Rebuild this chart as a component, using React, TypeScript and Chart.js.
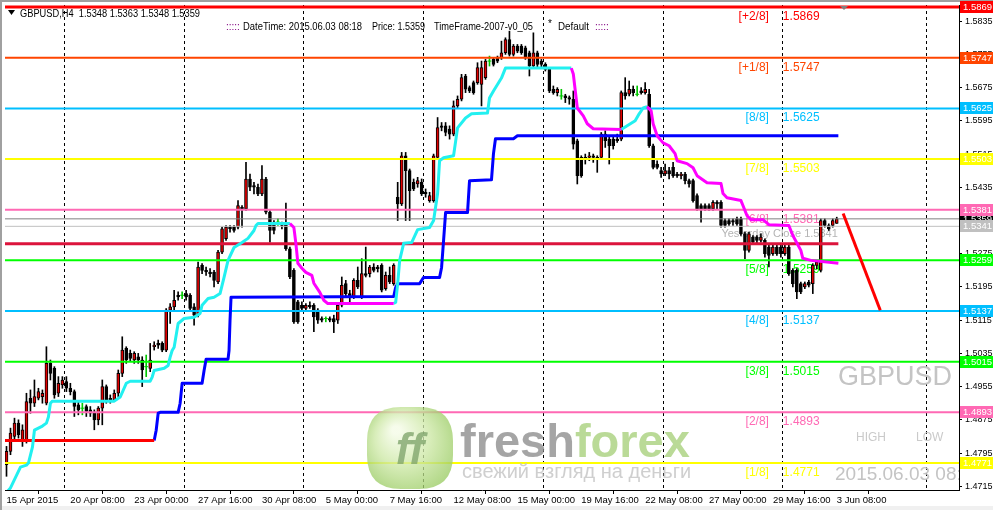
import React, { useEffect, useRef } from 'react';
import { Chart, registerables } from 'chart.js';

Chart.register(...registerables);

const FONT = '"Liberation Sans", Arial, sans-serif';

// axis extents (bar index / price)
const X_MIN = -0.375;
const X_MAX = 238.625;
const Y_MIN = 1.4706;
const Y_MAX = 1.5874;

const xTickBars = [0, 16, 32, 48, 64, 80, 96, 112, 128, 144, 160, 176, 192, 208];
const xTickLabels = ['15 Apr 2015', '20 Apr 08:00', '23 Apr 00:00', '27 Apr 16:00', '30 Apr 08:00', '5 May 00:00', '7 May 16:00', '12 May 08:00', '15 May 00:00', '19 May 16:00', '22 May 08:00', '27 May 00:00', '29 May 16:00', '3 Jun 08:00'];
const yTickValues = [1.4715, 1.4795, 1.4875, 1.4955, 1.5035, 1.5115, 1.5195, 1.5275, 1.5355, 1.5435, 1.5515, 1.5595, 1.5675, 1.5755, 1.5835];
const gridBars = [14.375, 44.375, 74.375, 104.375, 134.375, 164.375, 194.375, 230.375];

const levelNames = ['[+2/8]', '[+1/8]', '[8/8]', '[7/8]', '[6/8]', '[5/8]', '[4/8]', '[3/8]', '[2/8]', '[1/8]'];
const levelValues = [1.5869, 1.5747, 1.5625, 1.5503, 1.5381, 1.5259, 1.5137, 1.5015, 1.4893, 1.4771];
const levelColors = ['#FF0000', '#FF4500', '#00BFFF', '#FFFF00', '#FF69B4', '#00FF00', '#00BFFF', '#00FF00', '#FF69B4', '#FFFF00'];
const levelWidths = [3, 2, 2, 2, 2, 2, 2, 2, 2, 2];

const currentPrice = 1.5359;
const yesterdayClose = 1.5341;
const pivotLevel = 1.5299;

// [open, high, low, close] per H4 bar
const ohlc: [number, number, number, number][] = [
  [1.4767, 1.4811, 1.4739, 1.4799], [1.4799, 1.4855, 1.4791, 1.4843], [1.4835, 1.4879, 1.4827, 1.4867], [1.4867, 1.4875, 1.4831, 1.4839],
  [1.4827, 1.4863, 1.4811, 1.4851], [1.4827, 1.4939, 1.4819, 1.4919], [1.4927, 1.4947, 1.4891, 1.4915], [1.4915, 1.4971, 1.4907, 1.4931],
  [1.4927, 1.4951, 1.4923, 1.4943], [1.4931, 1.4947, 1.4915, 1.4939], [1.4915, 1.5051, 1.4911, 1.5011], [1.5011, 1.5019, 1.4971, 1.4987],
  [1.4999, 1.5003, 1.4927, 1.4935], [1.4939, 1.4979, 1.4931, 1.4963], [1.4959, 1.4979, 1.4951, 1.4971], [1.4967, 1.4979, 1.4943, 1.4951],
  [1.4951, 1.4963, 1.4935, 1.4943], [1.4943, 1.4947, 1.4883, 1.4907], [1.4911, 1.4919, 1.4887, 1.4899], [1.4903, 1.4915, 1.4887, 1.4903],
  [1.4907, 1.4911, 1.4883, 1.4895], [1.4899, 1.4907, 1.4883, 1.4891], [1.4891, 1.4899, 1.4851, 1.4875], [1.4875, 1.4907, 1.4863, 1.4903],
  [1.4903, 1.4971, 1.4863, 1.4955], [1.4955, 1.4959, 1.4915, 1.4923], [1.4927, 1.4935, 1.4915, 1.4919], [1.4923, 1.4947, 1.4919, 1.4939],
  [1.4939, 1.4995, 1.4931, 1.4987], [1.4987, 1.5075, 1.4979, 1.5043], [1.5047, 1.5051, 1.5011, 1.5019], [1.5035, 1.5043, 1.5015, 1.5023],
  [1.5019, 1.5039, 1.5011, 1.5035], [1.5027, 1.5035, 1.5011, 1.5019], [1.5019, 1.5027, 1.4955, 1.4995], [1.5003, 1.5031, 1.4979, 1.5003],
  [1.4999, 1.5059, 1.4991, 1.5019], [1.5051, 1.5063, 1.5043, 1.5055], [1.5059, 1.5067, 1.5047, 1.5055], [1.5059, 1.5063, 1.5039, 1.5043],
  [1.5043, 1.5143, 1.5039, 1.5139], [1.5139, 1.5155, 1.5107, 1.5147], [1.5147, 1.5187, 1.5139, 1.5163], [1.5175, 1.5183, 1.5163, 1.5171],
  [1.5175, 1.5183, 1.5167, 1.5175], [1.5179, 1.5187, 1.5163, 1.5171], [1.5175, 1.5179, 1.5139, 1.5143], [1.5147, 1.5155, 1.5103, 1.5127],
  [1.5127, 1.5255, 1.5123, 1.5243], [1.5247, 1.5251, 1.5227, 1.5235], [1.5235, 1.5243, 1.5223, 1.5231], [1.5231, 1.5239, 1.5219, 1.5227],
  [1.5231, 1.5235, 1.5195, 1.5211], [1.5207, 1.5283, 1.5203, 1.5279], [1.5279, 1.5339, 1.5275, 1.5335], [1.5311, 1.5343, 1.5307, 1.5339],
  [1.5339, 1.5343, 1.5327, 1.5335], [1.5339, 1.5343, 1.5327, 1.5331], [1.5339, 1.5403, 1.5335, 1.5391], [1.5387, 1.5391, 1.5339, 1.5383],
  [1.5383, 1.5495, 1.5379, 1.5455], [1.5455, 1.5467, 1.5427, 1.5435], [1.5439, 1.5447, 1.5419, 1.5435], [1.5435, 1.5443, 1.5415, 1.5419],
  [1.5419, 1.5487, 1.5415, 1.5455], [1.5455, 1.5459, 1.5371, 1.5375], [1.5375, 1.5379, 1.5303, 1.5331], [1.5351, 1.5355, 1.5323, 1.5331],
  [1.5351, 1.5359, 1.5343, 1.5351], [1.5347, 1.5351, 1.5335, 1.5343], [1.5347, 1.5397, 1.5283, 1.5287], [1.5287, 1.5291, 1.5215, 1.5219],
  [1.5235, 1.5239, 1.5107, 1.5111], [1.5159, 1.5163, 1.5107, 1.5111], [1.5151, 1.5159, 1.5139, 1.5143], [1.5143, 1.5155, 1.5139, 1.5151],
  [1.5151, 1.5159, 1.5143, 1.5147], [1.5151, 1.5155, 1.5087, 1.5123], [1.5139, 1.5143, 1.5107, 1.5115], [1.5119, 1.5123, 1.5111, 1.5115],
  [1.5119, 1.5123, 1.5111, 1.5119], [1.5119, 1.5123, 1.5111, 1.5115], [1.5119, 1.5127, 1.5085, 1.5111], [1.5115, 1.5155, 1.5107, 1.5151],
  [1.5151, 1.5219, 1.5147, 1.5199], [1.5203, 1.5211, 1.5171, 1.5179], [1.5179, 1.5187, 1.5155, 1.5171], [1.5171, 1.5215, 1.5167, 1.5211],
  [1.5211, 1.5243, 1.5191, 1.5195], [1.5171, 1.5263, 1.5167, 1.5227], [1.5227, 1.5291, 1.5219, 1.5223], [1.5227, 1.5247, 1.5219, 1.5243],
  [1.5243, 1.5251, 1.5231, 1.5235], [1.5243, 1.5247, 1.5231, 1.5239], [1.5247, 1.5251, 1.5183, 1.5187], [1.5191, 1.5231, 1.5187, 1.5223],
  [1.5223, 1.5243, 1.5203, 1.5207], [1.5203, 1.5251, 1.5199, 1.5247], [1.5411, 1.5447, 1.5355, 1.5395], [1.5395, 1.5519, 1.5391, 1.5511],
  [1.5511, 1.5519, 1.5355, 1.5475], [1.5475, 1.5479, 1.5355, 1.5427], [1.5447, 1.5455, 1.5427, 1.5431], [1.5443, 1.5459, 1.5435, 1.5451],
  [1.5447, 1.5455, 1.5415, 1.5419], [1.5423, 1.5431, 1.5411, 1.5419], [1.5403, 1.5423, 1.5399, 1.5415], [1.5403, 1.5515, 1.5399, 1.5511],
  [1.5507, 1.5603, 1.5503, 1.5579], [1.5583, 1.5591, 1.5571, 1.5579], [1.5583, 1.5591, 1.5559, 1.5567], [1.5575, 1.5583, 1.5551, 1.5563],
  [1.5563, 1.5643, 1.5559, 1.5631], [1.5631, 1.5655, 1.5627, 1.5647], [1.5647, 1.5707, 1.5643, 1.5699], [1.5703, 1.5707, 1.5663, 1.5671],
  [1.5675, 1.5679, 1.5663, 1.5667], [1.5687, 1.5691, 1.5659, 1.5663], [1.5687, 1.5735, 1.5683, 1.5723], [1.5683, 1.5739, 1.5631, 1.5723],
  [1.5699, 1.5743, 1.5695, 1.5739], [1.5739, 1.5751, 1.5727, 1.5739], [1.5743, 1.5747, 1.5727, 1.5731], [1.5747, 1.5751, 1.5735, 1.5739],
  [1.5747, 1.5787, 1.5743, 1.5759], [1.5759, 1.5795, 1.5755, 1.5791], [1.5791, 1.5811, 1.5751, 1.5755], [1.5755, 1.5779, 1.5751, 1.5775],
  [1.5775, 1.5779, 1.5759, 1.5763], [1.5775, 1.5779, 1.5755, 1.5759], [1.5771, 1.5775, 1.5743, 1.5747], [1.5759, 1.5763, 1.5703, 1.5727],
  [1.5727, 1.5807, 1.5723, 1.5759], [1.5759, 1.5763, 1.5723, 1.5731], [1.5739, 1.5743, 1.5723, 1.5731], [1.5731, 1.5735, 1.5715, 1.5719],
  [1.5719, 1.5723, 1.5663, 1.5667], [1.5671, 1.5679, 1.5659, 1.5663], [1.5663, 1.5675, 1.5655, 1.5671], [1.5655, 1.5671, 1.5647, 1.5655],
  [1.5655, 1.5659, 1.5639, 1.5651], [1.5651, 1.5655, 1.5635, 1.5647], [1.5647, 1.5667, 1.5527, 1.5539], [1.5547, 1.5551, 1.5443, 1.5463],
  [1.5507, 1.5511, 1.5459, 1.5463], [1.5507, 1.5515, 1.5491, 1.5503], [1.5507, 1.5519, 1.5499, 1.5511], [1.5511, 1.5515, 1.5495, 1.5507],
  [1.5507, 1.5511, 1.5471, 1.5503], [1.5507, 1.5567, 1.5503, 1.5563], [1.5563, 1.5571, 1.5531, 1.5547], [1.5551, 1.5559, 1.5491, 1.5535],
  [1.5551, 1.5559, 1.5527, 1.5535], [1.5551, 1.5563, 1.5543, 1.5547], [1.5551, 1.5667, 1.5547, 1.5663], [1.5663, 1.5699, 1.5647, 1.5655],
  [1.5659, 1.5691, 1.5655, 1.5671], [1.5671, 1.5679, 1.5655, 1.5663], [1.5659, 1.5679, 1.5655, 1.5659], [1.5667, 1.5675, 1.5659, 1.5663],
  [1.5663, 1.5687, 1.5659, 1.5671], [1.5659, 1.5671, 1.5531, 1.5535], [1.5535, 1.5539, 1.5479, 1.5483], [1.5491, 1.5499, 1.5479, 1.5483],
  [1.5475, 1.5483, 1.5459, 1.5467], [1.5467, 1.5491, 1.5463, 1.5475], [1.5475, 1.5483, 1.5455, 1.5467], [1.5483, 1.5495, 1.5459, 1.5463],
  [1.5467, 1.5471, 1.5459, 1.5463], [1.5463, 1.5471, 1.5455, 1.5467], [1.5467, 1.5471, 1.5443, 1.5451], [1.5451, 1.5455, 1.5435, 1.5443],
  [1.5451, 1.5455, 1.5399, 1.5403], [1.5415, 1.5419, 1.5379, 1.5383], [1.5391, 1.5395, 1.5351, 1.5383], [1.5391, 1.5395, 1.5379, 1.5383],
  [1.5391, 1.5395, 1.5379, 1.5383], [1.5383, 1.5403, 1.5379, 1.5399], [1.5399, 1.5403, 1.5383, 1.5395], [1.5399, 1.5403, 1.5339, 1.5343],
  [1.5355, 1.5359, 1.5339, 1.5343], [1.5355, 1.5359, 1.5343, 1.5347], [1.5355, 1.5359, 1.5343, 1.5351], [1.5359, 1.5363, 1.5343, 1.5347],
  [1.5359, 1.5363, 1.5319, 1.5323], [1.5323, 1.5327, 1.5263, 1.5283], [1.5283, 1.5327, 1.5279, 1.5323], [1.5315, 1.5319, 1.5299, 1.5303],
  [1.5315, 1.5319, 1.5299, 1.5307], [1.5307, 1.5323, 1.5303, 1.5315], [1.5307, 1.5311, 1.5267, 1.5275], [1.5291, 1.5295, 1.5243, 1.5271],
  [1.5275, 1.5295, 1.5271, 1.5291], [1.5291, 1.5299, 1.5271, 1.5275], [1.5291, 1.5295, 1.5267, 1.5275], [1.5275, 1.5295, 1.5271, 1.5291],
  [1.5291, 1.5295, 1.5223, 1.5227], [1.5235, 1.5239, 1.5195, 1.5203], [1.5235, 1.5239, 1.5167, 1.5183], [1.5203, 1.5207, 1.5179, 1.5183],
  [1.5195, 1.5207, 1.5191, 1.5203], [1.5207, 1.5211, 1.5195, 1.5199], [1.5203, 1.5251, 1.5179, 1.5247], [1.5247, 1.5259, 1.5239, 1.5255],
  [1.5235, 1.5359, 1.5231, 1.5355], [1.5355, 1.5359, 1.5339, 1.5343], [1.5343, 1.5347, 1.5331, 1.5335], [1.5343, 1.5359, 1.5339, 1.5355],
  [1.5348, 1.5363, 1.5348, 1.5359],
];

// trailing-stop indicator: [bar, price] vertices
const trailUp1: [number, number][] = [[0, 1.4700], [1, 1.4711], [3.5, 1.4761], [5, 1.4766], [5.5, 1.4771], [6.5, 1.4809], [7, 1.4850], [9, 1.4860], [10, 1.4867], [10.5, 1.4882], [11, 1.4915], [11.5, 1.4920], [27, 1.4920], [28.5, 1.4930], [30, 1.4963], [31, 1.4968], [36, 1.4968], [36.5, 1.4978], [37, 1.4994], [39.5, 1.4999], [40.5, 1.5006], [41, 1.5026], [41.5, 1.5042], [42, 1.5050], [43, 1.5107], [44.5, 1.5119], [47, 1.5122], [48.5, 1.5131], [49, 1.5151], [50.5, 1.5167], [52, 1.5170], [53.5, 1.5179], [54.5, 1.5218], [55.5, 1.5259], [57, 1.5290], [59, 1.5302], [60.5, 1.5312], [62, 1.5331], [62.5, 1.5343], [63, 1.5348], [71, 1.5348]];
const trailDown1: [number, number][] = [[71, 1.5348], [72, 1.5338], [72.5, 1.5300], [73, 1.5252], [74, 1.5240], [75, 1.5230], [76.5, 1.5223], [77, 1.5204], [78.5, 1.5182], [79.5, 1.5163], [80.5, 1.5155], [97, 1.5155]];
const trailUp2: [number, number][] = [[97, 1.5155], [97.5, 1.5158], [98, 1.5203], [98.5, 1.5259], [99.5, 1.5300], [101.5, 1.5302], [103, 1.5333], [106, 1.5338], [107, 1.5355], [108, 1.5420], [108.5, 1.5499], [109.5, 1.5506], [112, 1.5511], [113, 1.5578], [115, 1.5602], [116.5, 1.5612], [120.5, 1.5614], [121, 1.5650], [122, 1.5667], [124, 1.5698], [125, 1.5722], [141.5, 1.5722]];
const trailDown2: [number, number][] = [[141.5, 1.5722], [142, 1.5708], [142.5, 1.5667], [143, 1.5626], [144.5, 1.5607], [145.5, 1.5588], [147, 1.5576], [154, 1.5574]];
const trailUp3: [number, number][] = [[154, 1.5574], [155.5, 1.5583], [157.5, 1.5595], [158.5, 1.5612], [159.5, 1.5626], [160.5, 1.5629]];
const trailDown3: [number, number][] = [[160.5, 1.5629], [161.5, 1.5619], [162, 1.5588], [163, 1.5559], [164.5, 1.5542], [166, 1.5535], [167.5, 1.5516], [168, 1.5499], [170.5, 1.5492], [172, 1.5482], [173, 1.5463], [175.5, 1.5446], [179, 1.5444], [179.5, 1.5420], [180.5, 1.5410], [184, 1.5403], [184.5, 1.5391], [185.5, 1.5367], [186.5, 1.5357], [189.5, 1.5357], [191, 1.5345], [196, 1.5343], [197, 1.5319], [199, 1.5283], [199.5, 1.5264], [201.5, 1.5259], [208.4, 1.5252]];

// step stop line
const stopRed: [number, number][] = [[X_MIN, 1.4825], [37, 1.4825]];
const stopBlue: [number, number][] = [[37, 1.4825], [37.5, 1.4850], [38, 1.4891], [38.5, 1.4893], [43, 1.4893], [43.5, 1.4915], [44, 1.4963], [49, 1.4963], [49.5, 1.4994], [50, 1.5021], [55.5, 1.5021], [55.75, 1.5042], [56, 1.5115], [56.25, 1.5170], [97, 1.5172], [97.5, 1.5194], [98, 1.5203], [103.5, 1.5203], [104.5, 1.5218], [108.5, 1.5218], [109, 1.5242], [109.5, 1.5307], [110, 1.5374], [115.5, 1.5374], [116, 1.5451], [121.5, 1.5453], [122, 1.5516], [122.5, 1.5552], [127, 1.5552], [128, 1.5559], [208.4, 1.5559]];
const pivotSpan: [number, number] = [X_MIN, 208.4];
const arrowLine: [number, number][] = [[209.6, 1.5372], [218.9, 1.5139]];

const BULL = '#E00000';
const DOJI = '#00C800';

const pts = (a: [number, number][]) => a.map(([x, y]) => ({ x, y }));
const lineDs = (data: [number, number][], color: string, width: number, order: number) => ({
  type: 'line' as const,
  data: pts(data),
  borderColor: color,
  borderWidth: width,
  pointRadius: 0,
  tension: 0,
  fill: false,
  order,
  borderJoinStyle: 'round' as const,
});

const isDoji = ohlc.map((c) => c[0] === c[3]);

function roundRect(ctx: CanvasRenderingContext2D, x: number, y: number, w: number, h: number, r: number) {
  ctx.beginPath();
  ctx.moveTo(x + r, y);
  ctx.lineTo(x + w - r, y);
  ctx.quadraticCurveTo(x + w, y, x + w, y + r);
  ctx.lineTo(x + w, y + h - r);
  ctx.quadraticCurveTo(x + w, y + h, x + w - r, y + h);
  ctx.lineTo(x + r, y + h);
  ctx.quadraticCurveTo(x, y + h, x, y + h - r);
  ctx.lineTo(x, y + r);
  ctx.quadraticCurveTo(x, y, x + r, y);
  ctx.closePath();
}

const mt4Plugin = {
  id: 'mt4',
  beforeDraw(chart: any) {
    const { ctx, width, height } = chart;
    ctx.save();
    ctx.fillStyle = '#FFFFFF';
    ctx.fillRect(0, 0, width, height);
    ctx.fillStyle = '#A0A0A0';
    ctx.fillRect(0, 0, width, 2);
    ctx.fillRect(0, 0, 2, height);
    ctx.fillStyle = '#F0F0F0';
    ctx.fillRect(2, 506, width - 2, 4);
    ctx.restore();
  },
  beforeDatasetsDraw(chart: any) {
    const { ctx, chartArea, scales } = chart;
    const xs = scales.x;
    const ys = scales.y;
    ctx.save();
    ctx.beginPath();
    ctx.rect(chartArea.left, chartArea.top, chartArea.right - chartArea.left, chartArea.bottom - chartArea.top);
    ctx.clip();
    // dashed grid
    ctx.strokeStyle = '#000';
    ctx.lineWidth = 1;
    ctx.setLineDash([3, 3]);
    gridBars.forEach((b) => {
      const px = Math.round(xs.getPixelForValue(b)) + 0.5;
      ctx.beginPath();
      ctx.moveTo(px, chartArea.top);
      ctx.lineTo(px, chartArea.bottom);
      ctx.stroke();
    });
    ctx.setLineDash([]);
    // level labels
    ctx.font = `12px ${FONT}`;
    ctx.textBaseline = 'alphabetic';
    levelValues.forEach((v, i) => {
      const py = ys.getPixelForValue(v);
      ctx.fillStyle = levelColors[i];
      ctx.textAlign = 'right';
      ctx.fillText(levelNames[i], xs.getPixelForValue(191), py + 13);
      ctx.textAlign = 'left';
      ctx.fillText(v.toFixed(4), xs.getPixelForValue(194.5), py + 13);
    });
    ctx.font = `11px ${FONT}`;
    ctx.fillStyle = '#B4B4B4';
    ctx.textAlign = 'left';
    ctx.fillText('Yesterday Close ' + yesterdayClose.toFixed(4), xs.getPixelForValue(179.1), ys.getPixelForValue(yesterdayClose) + 11);
    ctx.restore();
  },
  afterDatasetsDraw(chart: any) {
    const { ctx, chartArea } = chart;
    ctx.save();
    ctx.beginPath();
    ctx.rect(chartArea.left, chartArea.top, chartArea.right - chartArea.left, chartArea.bottom - chartArea.top);
    ctx.clip();
    // watermark logo
    ctx.globalAlpha = 0.78;
    const cx = 410;
    const cy = 448;
    const g = ctx.createRadialGradient(cx - 14, cy - 18, 4, cx, cy, 56);
    g.addColorStop(0, '#F4FBE6');
    g.addColorStop(0.45, '#CDE8A6');
    g.addColorStop(1, '#8DC452');
    ctx.fillStyle = g;
    roundRect(ctx, cx - 43, cy - 41, 86, 82, 34);
    ctx.fill();
    ctx.fillStyle = '#7FA46B';
    ctx.font = `bold italic 44px ${FONT}`;
    ctx.textAlign = 'center';
    ctx.fillText('ff', cx, cy + 16);
    ctx.textAlign = 'left';
    ctx.font = `bold 47px ${FONT}`;
    ctx.fillStyle = '#8C8C8C';
    ctx.fillText('fresh', 460, 457);
    const fw = ctx.measureText('fresh').width;
    ctx.fillStyle = '#A6D07A';
    ctx.fillText('forex', 460 + fw, 457);
    ctx.font = `20px ${FONT}`;
    ctx.fillStyle = '#C2C2C2';
    ctx.fillText('свежий взгляд на деньги', 462, 478, 238);
    ctx.globalAlpha = 1;
    // corner labels
    ctx.fillStyle = '#C4C4C4';
    ctx.font = `27px ${FONT}`;
    ctx.textAlign = 'right';
    ctx.fillText('GBPUSD', chartArea.right - 7, 385);
    ctx.textAlign = 'left';
    ctx.font = `12px ${FONT}`;
    ctx.fillStyle = '#CACACA';
    ctx.fillText('HIGH', 856, 441);
    ctx.fillText('LOW', 916, 441);
    ctx.font = `19px ${FONT}`;
    ctx.fillStyle = '#C4C4C4';
    ctx.fillText('2015.06.03 08:18', 835, 480);
    ctx.restore();
  },
  afterDraw(chart: any) {
    const { ctx, chartArea, scales, width } = chart;
    const ys = scales.y;
    ctx.save();
    const box = (v: number, bg: string) => {
      const py = ys.getPixelForValue(v);
      ctx.fillStyle = bg;
      ctx.fillRect(chartArea.right + 1, Math.round(py) - 6, width - chartArea.right - 1, 12);
      ctx.fillStyle = '#FFFFFF';
      ctx.font = `9.5px ${FONT}`;
      ctx.textAlign = 'left';
      ctx.textBaseline = 'middle';
      ctx.fillText(v.toFixed(4), chartArea.right + 4, Math.round(py) + 0.5);
    };
    box(currentPrice, '#000000');
    box(yesterdayClose, '#C0C0C0');
    levelValues.forEach((v, i) => box(v, levelColors[i]));
    // header
    ctx.textBaseline = 'alphabetic';
    ctx.fillStyle = '#000';
    ctx.beginPath();
    ctx.moveTo(8, 10);
    ctx.lineTo(15, 10);
    ctx.lineTo(11.5, 15);
    ctx.closePath();
    ctx.fill();
    ctx.font = `10px ${FONT}`;
    ctx.fillText('GBPUSD,H4  1.5348 1.5363 1.5348 1.5359', 20, 17, 180);
    ctx.fillStyle = '#800080';
    ctx.fillText(':::::', 226, 30, 14);
    ctx.fillText(':::::', 595, 30, 14);
    ctx.fillStyle = '#000';
    ctx.fillText('DateTime: 2015.06.03 08:18', 243, 30, 119);
    ctx.fillText('Price: 1.5359', 372, 30, 53);
    ctx.fillText('TimeFrame-2007-v0_05', 434, 30, 99);
    ctx.fillText('*', 548, 27);
    ctx.fillText('Default', 558, 30, 31);
    // chart shift marker
    ctx.fillStyle = '#808080';
    ctx.beginPath();
    ctx.moveTo(840, chartArea.top + 1);
    ctx.lineTo(848, chartArea.top + 1);
    ctx.lineTo(844, chartArea.top + 5);
    ctx.closePath();
    ctx.fill();
    ctx.restore();
  },
};

export default function App() {
  const ref = useRef<HTMLCanvasElement>(null);
  useEffect(() => {
    document.body.style.margin = '0';
    const canvas = ref.current;
    if (!canvas) return;

    const datasets: any[] = [
      {
        type: 'bar',
        data: ohlc.map((c, i) => ({ x: i, y: [c[2], c[1]] })),
        backgroundColor: ohlc.map((c, i) => (isDoji[i] ? DOJI : '#000000')),
        borderWidth: 0,
        barThickness: 1,
        grouped: false,
        order: 30,
      },
      {
        type: 'bar',
        data: ohlc.map((c, i) => ({ x: i, y: isDoji[i] ? null : [c[0], c[3]] })),
        backgroundColor: ohlc.map((c) => (c[3] > c[0] ? BULL : '#000000')),
        borderColor: '#000000',
        borderWidth: 1,
        borderSkipped: false,
        barThickness: 3,
        grouped: false,
        order: 29,
      },
      {
        type: 'line',
        showLine: false,
        data: ohlc.map((c, i) => ({ x: i, y: isDoji[i] ? c[3] : null })),
        pointStyle: 'line',
        pointRadius: 2,
        pointBorderColor: DOJI,
        pointBorderWidth: 1,
        order: 28,
      },
      lineDs([[X_MIN, currentPrice], [X_MAX, currentPrice]], '#808080', 1, 12),
      lineDs([[X_MIN, yesterdayClose], [X_MAX, yesterdayClose]], '#C0C0C0', 1, 12),
      ...levelValues.map((v, i) => lineDs([[X_MIN, v], [X_MAX, v]], levelColors[i], levelWidths[i], 10)),
      lineDs([[pivotSpan[0], pivotLevel], [pivotSpan[1], pivotLevel]], '#DC143C', 3, 6),
      lineDs(stopRed, '#FF0000', 3, 5),
      lineDs(stopBlue, '#0000FF', 3, 5),
      lineDs(trailUp1, '#22F0F0', 3, 4),
      lineDs(trailUp2, '#22F0F0', 3, 4),
      lineDs(trailUp3, '#22F0F0', 3, 4),
      lineDs(trailDown1, '#FF00FF', 3, 3),
      lineDs(trailDown2, '#FF00FF', 3, 3),
      lineDs(trailDown3, '#FF00FF', 3, 3),
      lineDs(arrowLine, '#FF0000', 3, 2),
    ];

    const chart = new Chart(canvas, {
      type: 'bar',
      data: { datasets },
      options: {
        responsive: false,
        animation: false,
        devicePixelRatio: 1,
        events: [],
        layout: { padding: { left: 3, top: 4, right: 0, bottom: 0 } },
        plugins: { legend: { display: false }, tooltip: { enabled: false } },
        scales: {
          x: {
            type: 'linear',
            min: X_MIN,
            max: X_MAX,
            offset: false,
            afterFit: (s: any) => {
              s.height = 20;
              s.paddingLeft = 0;
              s.paddingRight = 0;
            },
            afterBuildTicks: (s: any) => {
              s.ticks = xTickBars.map((v) => ({ value: v }));
            },
            ticks: {
              autoSkip: false,
              maxRotation: 0,
              minRotation: 0,
              align: 'start',
              padding: 1,
              color: '#000',
              font: { family: FONT, size: 9.5 },
              callback: (v: any) => {
                const k = xTickBars.indexOf(Number(v));
                return k >= 0 ? xTickLabels[k] : '';
              },
            },
            grid: { drawOnChartArea: false, drawTicks: true, tickLength: 4, color: '#000' },
            border: { display: true, color: '#000' },
          },
          y: {
            type: 'linear',
            position: 'right',
            min: Y_MIN,
            max: Y_MAX,
            beginAtZero: false,
            afterFit: (s: any) => {
              s.width = 34;
              s.paddingTop = 0;
              s.paddingBottom = 0;
            },
            afterBuildTicks: (s: any) => {
              s.ticks = yTickValues.map((v) => ({ value: v }));
            },
            ticks: {
              padding: 3,
              color: '#000',
              font: { family: FONT, size: 9 },
              callback: (v: any) => Number(v).toFixed(4),
            },
            grid: { drawOnChartArea: false, drawTicks: true, tickLength: 3, color: '#000' },
            border: { display: true, color: '#000' },
          },
        },
      },
      plugins: [mt4Plugin],
    } as any);
    return () => chart.destroy();
  }, []);

  return <canvas ref={ref} width={993} height={510} style={{ display: 'block', width: 993, height: 510 }} />;
}
